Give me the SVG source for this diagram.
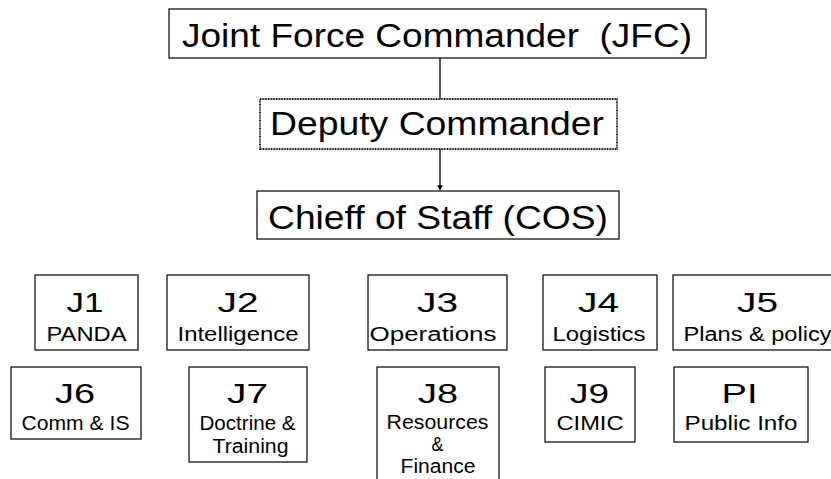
<svg xmlns="http://www.w3.org/2000/svg" width="831" height="479" viewBox="0 0 831 479">
<style>
  .box { fill: #ffffff; stroke: #000000; stroke-width: 1.2; }
  .dotted { fill: #ffffff; stroke: #111111; stroke-width: 1.8; stroke-dasharray: 1 0.6; }
  .t { font-family: "Liberation Sans", Arial, sans-serif; fill: #000000; text-anchor: middle; }
  .big { font-size: 33px; }
  .j { font-size: 28px; }
  .s { font-size: 20px; }
  .conn { stroke: #000000; stroke-width: 1.3; fill: none; }
</style>
<defs>
  <marker id="arr" viewBox="0 0 8 10" refX="8" refY="5" markerWidth="5" markerHeight="6" markerUnits="userSpaceOnUse" orient="auto">
    <path d="M0,0 L8,5 L0,10 Z" fill="#000000"/>
  </marker>
</defs>
<rect width="831" height="479" fill="#ffffff"/>
<g id="connectors">
  <line class="conn" x1="440" y1="58" x2="440" y2="99"/>
  <line class="conn" x1="440" y1="149" x2="440" y2="190" marker-end="url(#arr)"/>
</g>
<g id="jfc">
  <rect class="box" x="169" y="9" width="537" height="49"/>
  <text class="t big" x="437" y="47" textLength="510" lengthAdjust="spacingAndGlyphs" xml:space="preserve">Joint Force Commander  (JFC)</text>
</g>
<g id="deputy">
  <rect class="dotted" x="260" y="99" width="357" height="50"/>
  <text class="t big" x="437" y="135" textLength="334" lengthAdjust="spacingAndGlyphs">Deputy Commander</text>
</g>
<g id="cos">
  <rect class="box" x="257" y="191" width="362" height="48"/>
  <text class="t big" x="438" y="229" textLength="340" lengthAdjust="spacingAndGlyphs">Chieff of Staff (COS)</text>
</g>
<g id="j1">
  <rect class="box" x="35" y="275" width="103" height="75"/>
  <text class="t j" x="85" y="312" textLength="37" lengthAdjust="spacingAndGlyphs">J1</text>
  <text class="t s" x="86.5" y="341" textLength="80" lengthAdjust="spacingAndGlyphs">PANDA</text>
</g>
<g id="j2">
  <rect class="box" x="167" y="275" width="142" height="75"/>
  <text class="t j" x="238" y="312" textLength="41" lengthAdjust="spacingAndGlyphs">J2</text>
  <text class="t s" x="238" y="341" textLength="121" lengthAdjust="spacingAndGlyphs">Intelligence</text>
</g>
<g id="j3">
  <rect class="box" x="368" y="275" width="139" height="75"/>
  <text class="t j" x="437.5" y="312" textLength="41" lengthAdjust="spacingAndGlyphs">J3</text>
  <text class="t s" x="433" y="341" textLength="127" lengthAdjust="spacingAndGlyphs">Operations</text>
</g>
<g id="j4">
  <rect class="box" x="543" y="275" width="114" height="75"/>
  <text class="t j" x="598.5" y="312" textLength="41" lengthAdjust="spacingAndGlyphs">J4</text>
  <text class="t s" x="599" y="341" textLength="93" lengthAdjust="spacingAndGlyphs">Logistics</text>
</g>
<g id="j5">
  <rect class="box" x="673" y="275" width="170" height="75"/>
  <text class="t j" x="757.5" y="312" textLength="41" lengthAdjust="spacingAndGlyphs">J5</text>
  <text class="t s" x="757.5" y="341" textLength="148" lengthAdjust="spacingAndGlyphs">Plans &amp; policy</text>
</g>
<g id="j6">
  <rect class="box" x="11" y="367" width="130" height="72"/>
  <text class="t j" x="75" y="403" textLength="40" lengthAdjust="spacingAndGlyphs">J6</text>
  <text class="t s" x="75.5" y="430" textLength="108" lengthAdjust="spacingAndGlyphs">Comm &amp; IS</text>
</g>
<g id="j7">
  <rect class="box" x="189" y="367" width="118" height="95"/>
  <text class="t j" x="247.5" y="403" textLength="41" lengthAdjust="spacingAndGlyphs">J7</text>
  <text class="t s" x="247.5" y="430" textLength="96" lengthAdjust="spacingAndGlyphs">Doctrine &amp;</text>
  <text class="t s" x="250.5" y="453" textLength="76" lengthAdjust="spacingAndGlyphs">Training</text>
</g>
<g id="j8">
  <rect class="box" x="377" y="367" width="122" height="120"/>
  <text class="t j" x="438" y="403" textLength="40" lengthAdjust="spacingAndGlyphs">J8</text>
  <text class="t s" x="437.5" y="429" textLength="102" lengthAdjust="spacingAndGlyphs">Resources</text>
  <text class="t s" x="437.5" y="451" textLength="12" lengthAdjust="spacingAndGlyphs">&amp;</text>
  <text class="t s" x="438" y="473" textLength="75" lengthAdjust="spacingAndGlyphs">Finance</text>
</g>
<g id="j9">
  <rect class="box" x="545" y="367" width="90" height="75"/>
  <text class="t j" x="589.5" y="403" textLength="39" lengthAdjust="spacingAndGlyphs">J9</text>
  <text class="t s" x="590" y="430" textLength="67" lengthAdjust="spacingAndGlyphs">CIMIC</text>
</g>
<g id="pi">
  <rect class="box" x="674" y="367" width="134" height="75"/>
  <text class="t j" x="739.5" y="403" textLength="36" lengthAdjust="spacingAndGlyphs">PI</text>
  <text class="t s" x="741" y="430" textLength="113" lengthAdjust="spacingAndGlyphs">Public Info</text>
</g>
</svg>
